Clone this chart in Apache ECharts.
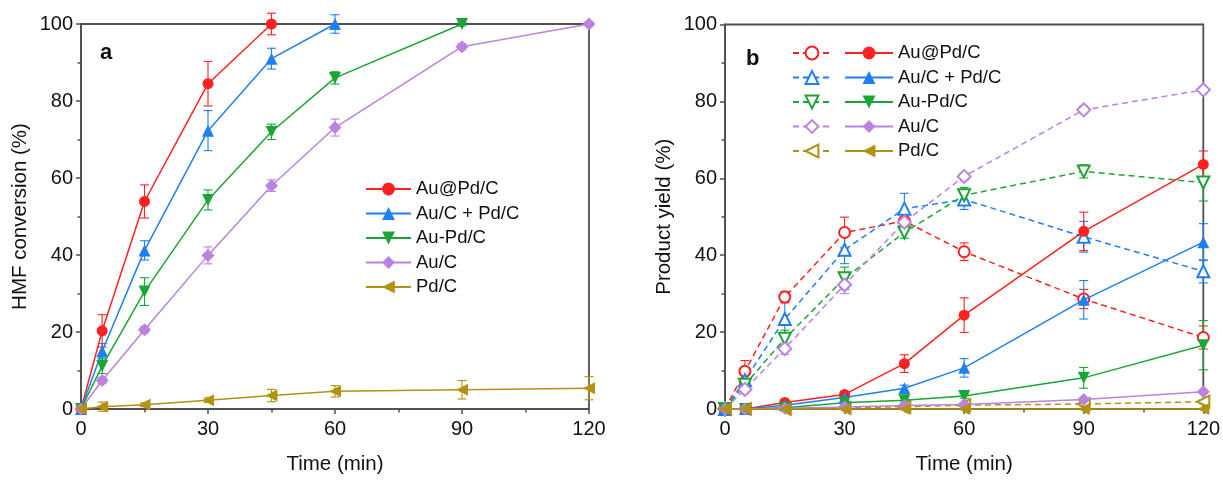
<!DOCTYPE html>
<html>
<head>
<meta charset="utf-8">
<script src="https://cdn.jsdelivr.net/npm/echarts@6/dist/echarts.min.js"></script>
<style>
html,body{margin:0;padding:0;background:#fff;}
#chart{width:1223px;height:480px;}
</style>
</head>
<body>
<div id="chart"></div>
<script>
// ---------- data ----------
const times = [0, 5, 15, 30, 45, 60, 90, 120];
const xTicks = [0, 30, 60, 90, 120];
const yTicks = [0, 20, 40, 60, 80, 100];
const names = ['Au@Pd/C', 'Au/C + Pd/C', 'Au-Pd/C', 'Au/C', 'Pd/C'];

// panel a: HMF conversion (%)
const convAuPd_core = [0, 20.3, 53.9, 84.5, 100, null, null, null];
const convAuPd_coreErr = [0, 4.2, 4.3, 5.8, 2.8, null, null, null];
const convMix = [0, 15.0, 41.2, 72.3, 91.0, 100, null, null];
const convMixErr = [0, 2.0, 2.5, 5.2, 2.7, 2.4, null, null];
const convAlloy = [0, 11.2, 30.5, 54.3, 72.0, 86.0, 100, null];
const convAlloyErr = [0, 2.0, 3.6, 2.6, 2.0, 1.6, 0.5, null];
const convAu = [0, 7.4, 20.6, 39.9, 58.0, 73.1, 94.1, 100];
const convAuErr = [0, 0.8, 0.8, 2.2, 1.5, 2.2, 0.8, 0.5];
const convPd = [0, 0.6, 1.1, 2.3, 3.5, 4.6, 5.0, 5.4];
const convPdErr = [0, 1.2, 0.5, 0.6, 1.6, 1.5, 2.4, 3.0];

// panel b: product yield (%) — open symbols (dashed) and filled symbols (solid)
const yOpenAuPd_core = [0, 9.8, 29.1, 45.9, 48.9, 40.9, 28.6, 18.6];
const yOpenAuPd_coreErr = [0, 2.8, 1.5, 4.0, 2.0, 2.3, 2.5, 3.0];
const yOpenMix = [0, 7.5, 23.4, 41.4, 52.1, 54.5, 44.8, 35.8];
const yOpenMixErr = [0, 1.5, 4.5, 3.6, 4.0, 2.6, 4.0, 3.0];
const yOpenAlloy = [0, 6.3, 18.3, 34.0, 45.9, 55.6, 61.8, 58.9];
const yOpenAlloyErr = [0, 1.0, 2.2, 2.9, 1.5, 2.0, 1.7, 4.8];
const yOpenAu = [0, 5.1, 15.7, 32.3, 48.6, 60.5, 77.8, 83.0];
const yOpenAuErr = [0, 1.0, 1.5, 2.3, 1.5, 1.0, 1.0, 0.8];
const yOpenPd = [0, 0, 0, 0.3, 0.6, 1.0, 1.3, 1.9];
const yOpenPdErr = [0, 0, 0, 0.3, 0.5, 0.5, 0.5, 0.5];

const yFillAuPd_core = [0, 0, 1.7, 3.8, 11.8, 24.4, 46.2, 63.6];
const yFillAuPd_coreErr = [0, 0, 0.5, 0.7, 2.3, 4.5, 5.0, 3.5];
const yFillMix = [0, 0, 1.0, 3.0, 5.4, 10.7, 28.4, 43.4];
const yFillMixErr = [0, 0, 0.3, 0.5, 0.8, 2.4, 5.0, 4.8];
const yFillAlloy = [0, 0, 0.3, 1.6, 2.3, 3.4, 8.1, 16.6];
const yFillAlloyErr = [0, 0, 0.3, 0.5, 0.5, 0.6, 2.7, 6.4];
const yFillAu = [0, 0, 0.2, 0.5, 0.9, 1.2, 2.5, 4.5];
const yFillAuErr = [0, 0, 0.2, 0.3, 0.3, 0.3, 0.4, 0.4];
const yFillPd = [0, 0, 0, 0, 0, 0, 0, 0];
const yFillPdErr = [0, 0, 0, 0, 0, 0, 0, 0];

// ---------- styling ----------
const FONT = 'Liberation Sans, Arial, sans-serif';
const colors = ['#ff2020', '#1f7ff2', '#1ba534', '#bb82e0', '#b39112'];
const filledSym = [
  {symbol: 'circle', size: 11, rot: 0},
  {symbol: 'triangle', size: 12, rot: 0},
  {symbol: 'triangle', size: 12, rot: 180},
  {symbol: 'diamond', size: 13, rot: 0},
  {symbol: 'triangle', size: 12, rot: 90}
];
const openSym = [
  {symbol: 'emptyCircle', size: 11, rot: 0},
  {symbol: 'emptyTriangle', size: 12, rot: 0},
  {symbol: 'emptyTriangle', size: 12, rot: 180},
  {symbol: 'emptyDiamond', size: 13, rot: 0},
  {symbol: 'emptyTriangle', size: 12, rot: 90}
];
const AXC = '#505050';

function pairs(vals) {
  const out = [];
  vals.forEach((v, i) => { if (v !== null) out.push([times[i], v]); });
  return out;
}
function errTriples(vals, errs) {
  const out = [];
  vals.forEach((v, i) => { if (v !== null) out.push([times[i], v, errs[i] || 0]); });
  return out;
}
function lineSeries(name, vals, idx, sym, dashed, grid) {
  return {
    type: 'line', name: name, data: pairs(vals),
    xAxisIndex: grid, yAxisIndex: grid,
    symbol: sym.symbol, symbolSize: sym.size, symbolRotate: sym.rot,
    clip: false, z: dashed ? 3 : 4,
    lineStyle: {color: colors[idx], width: 1.5, type: dashed ? [6, 4] : 'solid'},
    itemStyle: {color: colors[idx], borderColor: colors[idx], borderWidth: dashed ? 1.2 : 0},
    emphasis: {disabled: true}
  };
}
function errSeries(vals, errs, idx, grid) {
  return {
    type: 'custom', name: '_err' + grid + '_' + idx,
    xAxisIndex: grid, yAxisIndex: grid,
    data: errTriples(vals, errs), z: 2, clip: false,
    encode: {x: 0, y: 1},
    renderItem: function (params, api) {
      const x = api.value(0), y = api.value(1), e = api.value(2);
      if (!e) return null;
      const hi = api.coord([x, y + e]), lo = api.coord([x, y - e]);
      const w = 4.5, c = colors[idx];
      const st = {stroke: c, lineWidth: 1.1};
      return {type: 'group', children: [
        {type: 'line', shape: {x1: hi[0], y1: hi[1], x2: lo[0], y2: lo[1]}, style: st},
        {type: 'line', shape: {x1: hi[0] - w, y1: hi[1], x2: hi[0] + w, y2: hi[1]}, style: st},
        {type: 'line', shape: {x1: lo[0] - w, y1: lo[1], x2: lo[0] + w, y2: lo[1]}, style: st}
      ]};
    }
  };
}

const convVals = [convAuPd_core, convMix, convAlloy, convAu, convPd];
const convErrs = [convAuPd_coreErr, convMixErr, convAlloyErr, convAuErr, convPdErr];
const openVals = [yOpenAuPd_core, yOpenMix, yOpenAlloy, yOpenAu, yOpenPd];
const openErrs = [yOpenAuPd_coreErr, yOpenMixErr, yOpenAlloyErr, yOpenAuErr, yOpenPdErr];
const fillVals = [yFillAuPd_core, yFillMix, yFillAlloy, yFillAu, yFillPd];
const fillErrs = [yFillAuPd_coreErr, yFillMixErr, yFillAlloyErr, yFillAuErr, yFillPdErr];
const openNames = names.map(n => n + ' ');

const series = [];
names.forEach((n, i) => {
  series.push(errSeries(convVals[i], convErrs[i], i, 0));
  series.push(lineSeries(n, convVals[i], i, filledSym[i], false, 0));
});
names.forEach((n, i) => {
  series.push(errSeries(openVals[i], openErrs[i], i, 1));
  series.push(lineSeries(openNames[i], openVals[i], i, openSym[i], true, 1));
});
names.forEach((n, i) => {
  series.push(errSeries(fillVals[i], fillErrs[i], i, 1));
  series.push(lineSeries(n, fillVals[i], i, filledSym[i], false, 1));
});

function xAxis(grid) {
  return {
    type: 'value', gridIndex: grid, min: xTicks[0], max: xTicks[xTicks.length - 1], interval: xTicks[1] - xTicks[0],
    name: 'Time (min)', nameLocation: 'middle', nameGap: 45,
    nameTextStyle: {fontFamily: FONT, fontSize: 20.5, color: '#111'},
    axisLine: {show: true, onZero: false, lineStyle: {color: AXC, width: 1.8}},
    axisTick: {show: true, inside: false, length: 5, lineStyle: {color: AXC, width: 1.5}},
    minorTick: {show: true, splitNumber: 2, length: 3.5, lineStyle: {color: AXC, width: 1.5}},
    axisLabel: {fontFamily: FONT, fontSize: 20, color: '#111', margin: 10},
    splitLine: {show: false}
  };
}
function yAxis(grid, name) {
  return {
    type: 'value', gridIndex: grid, min: yTicks[0], max: yTicks[yTicks.length - 1], interval: yTicks[1] - yTicks[0],
    name: name, nameLocation: 'middle', nameGap: 50,
    nameTextStyle: {fontFamily: FONT, fontSize: 20.5, color: '#111'},
    axisLine: {show: true, onZero: false, lineStyle: {color: AXC, width: 1.8}},
    axisTick: {show: true, inside: false, length: 5, lineStyle: {color: AXC, width: 1.5}},
    minorTick: {show: true, splitNumber: 2, length: 3.5, lineStyle: {color: AXC, width: 1.5}},
    axisLabel: {fontFamily: FONT, fontSize: 20, color: '#111', margin: 8},
    splitLine: {show: false}
  };
}

const legendText = {fontFamily: FONT, fontSize: 18.5, color: '#111', lineHeight: 20};

const option = {
  animation: false,
  backgroundColor: '#fff',
  grid: [
    {left: 81, right: 634, top: 24, bottom: 71, show: true, borderColor: AXC, borderWidth: 1.8, containLabel: false},
    {left: 725, right: 19, top: 24.5, bottom: 69.5, show: true, borderColor: AXC, borderWidth: 1.8, containLabel: false}
  ],
  xAxis: [xAxis(0), xAxis(1)],
  yAxis: [yAxis(0, 'HMF conversion (%)'), yAxis(1, 'Product yield (%)')],
  legend: [
    {data: names, orient: 'vertical', left: 365, top: 179, padding: 0, itemWidth: 45, itemHeight: 16, itemGap: 4.5,
     textStyle: legendText, selectedMode: false},
    {data: openNames, orient: 'vertical', left: 792, top: 43, padding: 0, itemWidth: 38, itemHeight: 16, itemGap: 4.5,
     textStyle: legendText, selectedMode: false, formatter: () => ' '},
    {data: names, orient: 'vertical', left: 844, top: 43, padding: 0, itemWidth: 48, itemHeight: 16, itemGap: 4.5,
     textStyle: legendText, selectedMode: false}
  ],
  graphic: [
    {type: 'text', left: 100, top: 42, style: {text: 'a', font: 'bold 22px ' + FONT, fill: '#111'}},
    {type: 'text', left: 746, top: 48, style: {text: 'b', font: 'bold 22px ' + FONT, fill: '#111'}}
  ],
  series: series
};

const chart = echarts.init(document.getElementById('chart'), null, {renderer: 'canvas'});
chart.setOption(option);
</script>
</body>
</html>
